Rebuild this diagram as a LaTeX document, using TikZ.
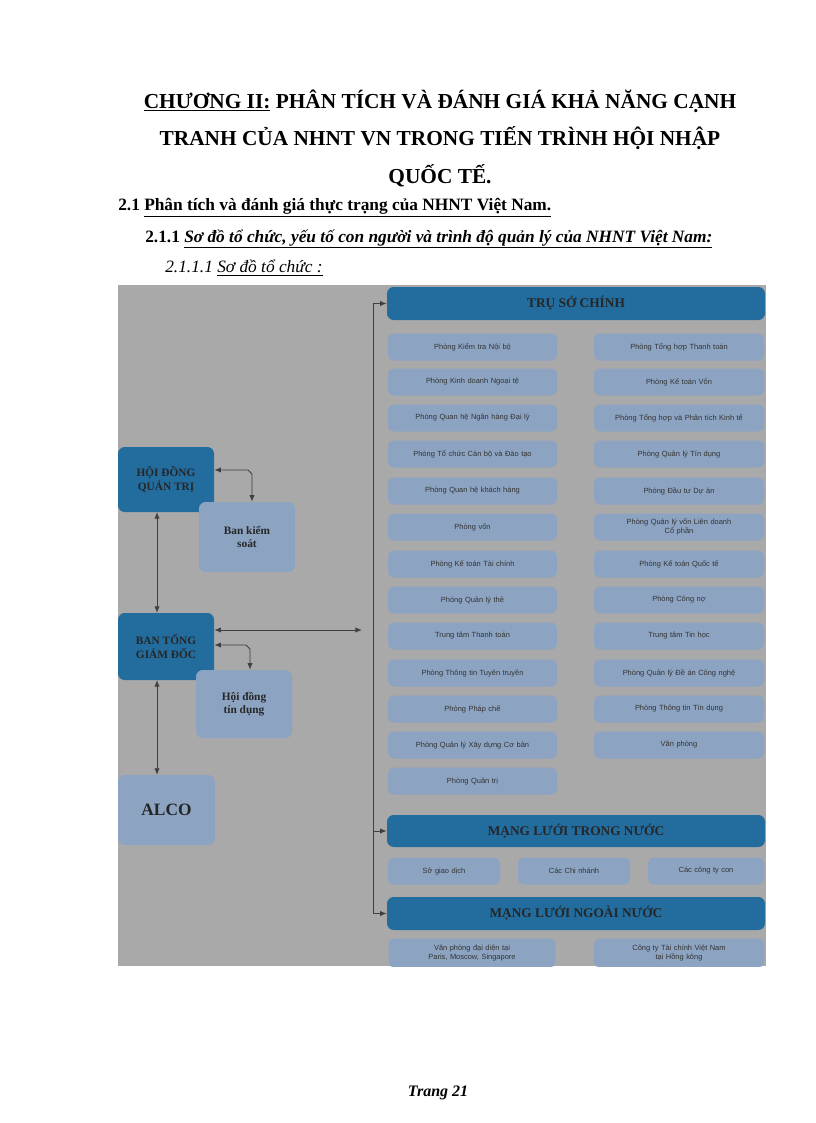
\documentclass[tikz,border=0pt]{standalone}
\usepackage{fontspec}
\setmainfont{Liberation Serif}
\newfontfamily\boxfont{Liberation Sans}
\usetikzlibrary{arrows.meta}
\definecolor{bg}{HTML}{A9A9A9}
\definecolor{dkb}{HTML}{236C9E}
\definecolor{ltb}{HTML}{8CA4C2}
\tikzset{
 hdr/.style={draw=none,fill=dkb,rounded corners=5pt,font=\bfseries\fontsize{10}{11}\selectfont,text=black!85},
 sub/.style={draw=none,fill=ltb,rounded corners=4pt,font=\boxfont\fontsize{5.6}{6.4}\selectfont,text=black!80,align=center,inner sep=0pt},
 big/.style={draw=none,rounded corners=5pt,font=\bfseries\fontsize{8.5}{10}\selectfont,text=black!85,align=center},
 con/.style={draw=black!75,line width=0.7pt},
 ar/.style={-{Latex[length=5pt,width=4pt]}},
 dar/.style={{Latex[length=5pt,width=4pt]}-{Latex[length=5pt,width=4pt]}}
}
\newcommand{\rbox}[6]{\node[sub,minimum width=#3*0.75pt,minimum height=#4*0.75pt,text width=#3*0.75pt] (#5) at (#1,#2) {#6};}
\begin{document}
\begin{tikzpicture}[x=0.75pt,y=-0.75pt]
\useasboundingbox (0,0) rectangle (816,1123);
\fill[white] (0,0) rectangle (816,1123);
% headings
\node[font=\bfseries\fontsize{16}{18}\selectfont] (t1) at (440,101) {\underline{CHƯƠNG II:} PHÂN TÍCH VÀ ĐÁNH GIÁ KHẢ NĂNG CẠNH};
\node[font=\bfseries\fontsize{16}{18}\selectfont] (t2) at (440,138) {TRANH CỦA NHNT VN TRONG TIẾN TRÌNH HỘI NHẬP};
\node[font=\bfseries\fontsize{16}{18}\selectfont] (t3) at (440,176) {QUỐC TẾ.};
\node[font=\bfseries\fontsize{13}{15}\selectfont,anchor=west,inner sep=0pt] (s1) at (118,208) {2.1 \underline{Phân tích và đánh giá thực trạng của NHNT Việt Nam.}};
\node[font=\bfseries\fontsize{13}{15}\selectfont,anchor=west,inner sep=0pt] (s2) at (145,239) {2.1.1 \underline{\itshape Sơ đồ tổ chức, yếu tố con người và trình độ quản lý của NHNT Việt Nam:}};
\node[font=\itshape\fontsize{13}{15}\selectfont,anchor=west,inner sep=0pt] (s3) at (165,268) {2.1.1.1 \underline{Sơ đồ tổ chức :}};
\node[font=\bfseries\itshape\fontsize{12}{14}\selectfont] (pg) at (438,1093) {Trang 21};
% diagram background
\fill[bg] (118,285) rectangle (766,966);
\begin{scope}
\clip (118,285) rectangle (766,966);
\node[hdr,minimum width=378*0.75pt,minimum height=33*0.75pt] (tru) at (576,303.5) {TRỤ SỞ CHÍNH};
\foreach \y/\t [count=\i] in {347/Phòng Kiểm tra Nội bộ,382/Phòng Kinh doanh Ngoại tệ,418/Phòng Quan hệ Ngân hàng Đại lý,454/Phòng Tổ chức Cán bộ và Đào tạo,491/Phòng Quan hệ khách hàng,527/Phòng vốn,564/Phòng Kế toán Tài chính,600/Phòng Quản lý thẻ,636/Trung tâm Thanh toán,673/Phòng Thông tin Tuyên truyền,709/Phòng Pháp chế,745/Phòng Quản lý Xây dựng Cơ bản,781/Phòng Quản trị}
 {\node[sub,minimum width=169*0.75pt,minimum height=27*0.75pt,text width=169*0.75pt] (L\i) at (472.5,\y) {\t};}
\foreach \y/\t [count=\i] in {347/Phòng Tổng hợp Thanh toán,382/Phòng Kế toán Vốn,418/Phòng Tổng hợp và Phân tích Kinh tế,454/Phòng Quản lý Tín dụng,491/Phòng Đầu tư Dự án,527/{Phòng Quản lý vốn Liên doanh\\Cổ phần},564/Phòng Kế toán Quốc tế,600/Phòng Công nợ,636/Trung tâm Tin học,673/Phòng Quản lý Đề án Công nghệ,709/Phòng Thông tin Tín dụng,745/Văn phòng}
 {\node[sub,minimum width=170*0.75pt,minimum height=27*0.75pt,text width=170*0.75pt] (R\i) at (679,\y) {\t};}
\node[hdr,minimum width=378*0.75pt,minimum height=32*0.75pt] (trong) at (576,831) {MẠNG LƯỚI TRONG NƯỚC};
\rbox{444}{871}{112}{27}{d1}{Sở giao dịch}
\rbox{574}{871}{112}{27}{d2}{Các Chi nhánh}
\rbox{706}{871}{116}{27}{d3}{Các công ty con}
\node[hdr,minimum width=378*0.75pt,minimum height=33*0.75pt] (ngoai) at (576,913.5) {MẠNG LƯỚI NGOÀI NƯỚC};
\rbox{472}{953}{167}{29}{n1}{Văn phòng đại diện tại\\Paris, Moscow, Singapore}
\rbox{679}{953}{170}{29}{n2}{Công ty Tài chính Việt Nam\\tại Hồng kông}
% left
\node[big,fill=dkb,minimum width=96*0.75pt,minimum height=65*0.75pt] (hd) at (166,479.5) {HỘI ĐỒNG\\QUẢN TRỊ};
\node[big,fill=ltb,minimum width=96*0.75pt,minimum height=70*0.75pt] (bks) at (247,537) {Ban kiểm\\soát};
\node[big,fill=dkb,minimum width=96*0.75pt,minimum height=67*0.75pt] (btgd) at (166,646.5) {BAN TỔNG\\GIÁM ĐỐC};
\node[big,fill=ltb,minimum width=96*0.75pt,minimum height=68*0.75pt] (hdtd) at (244,704) {Hội đồng\\tín dụng};
\node[big,fill=ltb,minimum width=97*0.75pt,minimum height=70*0.75pt,font=\bfseries\fontsize{13}{15}\selectfont] (alco) at (166.5,810) {ALCO};
% connectors
\coordinate (vt) at (373,303.5);
\coordinate (vb) at (373,913.5);
\coordinate (vm) at (373,831);
\draw[con] (vt) -- (vb);
\draw[con,ar] (vt) -- (tru.west);
\draw[con,ar] (vm) -- (trong.west);
\draw[con,ar] (vb) -- (ngoai.west);
\draw[con,dar] (157,512) -- (157,613);
\draw[con,dar] (157,680) -- (157,775);
\draw[con,dar] (hd.east |- 0,470) -- (248,470) -- (252,474) -- (bks.north -| 252,0);
\draw[con,dar] (btgd.east |- 0,630) -- (362,630);
\draw[con,dar] (btgd.east |- 0,645) -- (246,645) -- (250,649) -- (hdtd.north -| 250,0);
\end{scope}
\end{tikzpicture}
\end{document}
